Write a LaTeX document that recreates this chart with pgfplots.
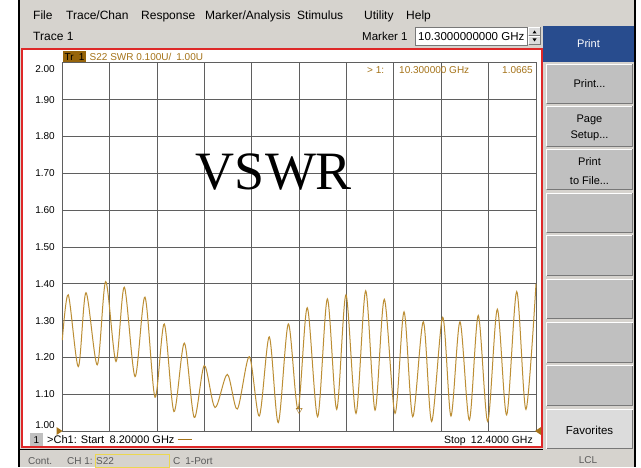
\documentclass[border=0pt]{standalone}
\usepackage{pgfplots}
\pgfplotsset{compat=1.18}
\usepackage{pgfplotstable}
\usepackage{fontspec}
\setmainfont{Liberation Sans}
\newfontfamily\bigserif{Liberation Serif}
\newcommand\fs[1]{\fontsize{#1}{#1}\selectfont}

\definecolor{win}{RGB}{214,211,206}
\definecolor{btn}{RGB}{192,192,192}
\definecolor{btnlight}{RGB}{220,220,220}
\definecolor{btnshadow}{RGB}{120,120,120}
\definecolor{printblue}{RGB}{40,76,142}
\definecolor{panelred}{RGB}{222,40,40}
\definecolor{gridc}{RGB}{95,95,95}
\definecolor{trace}{RGB}{188,142,52}
\definecolor{brown}{RGB}{165,115,25}
\definecolor{trbox}{RGB}{150,100,10}
\definecolor{stat}{RGB}{90,90,90}
\definecolor{s22box}{RGB}{235,215,80}

% S22 SWR, peaks and troughs
\pgfplotstableread{
f      vswr
8.200  1.247
8.253  1.370
8.342  1.175
8.410  1.376
8.510  1.180
8.585  1.406
8.676  1.189
8.750  1.391
8.845  1.148
8.933  1.364
9.022  1.092
9.104  1.291
9.190  1.053
9.282  1.239
9.370  1.037
9.459  1.178
9.554  1.064
9.663  1.154
9.752  1.060
9.858  1.202
9.947  1.041
10.035 1.256
10.115 1.023
10.204 1.291
10.290 1.060
10.372 1.335
10.464 1.039
10.550 1.359
10.633 1.059
10.715 1.370
10.804 1.048
10.890 1.381
10.973 1.057
11.055 1.358
11.150 1.048
11.230 1.324
11.307 1.039
11.401 1.297
11.475 1.026
11.573 1.309
11.646 1.041
11.726 1.297
11.809 1.030
11.888 1.314
11.972 1.026
12.057 1.331
12.140 1.044
12.229 1.379
12.311 1.059
12.400 1.400
}\swr

% bevelled button: x1 y1(top) x2 y2(bottom) fill
\newcommand\btn[5]{%
  \fill[#5] (#1,#2) rectangle (#3,#4);
  \draw[white,line width=1] (#1+0.5,#4-0.5) -- (#1+0.5,#2+0.5) -- (#3-0.5,#2+0.5);
  \draw[btnshadow,line width=1] (#1+0.5,#4-0.5) -- (#3-0.5,#4-0.5) -- (#3-0.5,#2+0.5);}

\begin{document}
\begin{tikzpicture}[x=1pt,y=1pt]
\fill[white] (0,0) rectangle (641,467);

% window chrome, in screen pixels (y down)
\begin{scope}[shift={(0,467)},yscale=-1]
  \fill[win] (19,0) rectangle (635,467);
  \draw[black,line width=1.5] (19,0) -- (19,467);
  \draw[black,line width=1.5] (635,0) -- (635,467);

  % menu
  \foreach \x/\t in {33/File,66/Trace\slash Chan,141/Response,205/Marker\slash Analysis,
                     297/Stimulus,364/Utility,406/Help}
    \node[anchor=base west,inner sep=0pt,font=\fs{12}] at (\x,19.3) {\t};

  \node[anchor=base west,inner sep=0pt,font=\fs{12}] at (33,40.3) {Trace 1};
  \node[anchor=base west,inner sep=0pt,font=\fs{11.5}] at (362,40.1) {Marker 1};
  \fill[white] (415,27) rectangle (527,45);
  \draw[btnshadow] (415,27) rectangle (527,45);
  \node[anchor=base west,inner sep=0pt,font=\fs{11.5}] at (418,40.1) {10.3000000000 GHz};
  \btn{528}{27}{541}{36}{btnlight}
  \btn{528}{36}{541}{45}{btnlight}
  \fill[black] (532.5,33.5) -- (536.5,33.5) -- (534.5,30.5) -- cycle;
  \fill[black] (532.5,38.5) -- (536.5,38.5) -- (534.5,41.5) -- cycle;

  % softkeys
  \fill[printblue] (543,26) rectangle (634,62);
  \node[anchor=base,inner sep=0pt,white,font=\fs{11}] at (588.5,48) {Print};
  \btn{546}{64}{633}{104}{btn}
  \btn{546}{106}{633}{147}{btn}
  \btn{546}{149}{633}{190}{btn}
  \btn{546}{193}{633}{233}{btn}
  \btn{546}{235}{633}{276}{btn}
  \btn{546}{279}{633}{319}{btn}
  \btn{546}{322}{633}{363}{btn}
  \btn{546}{365}{633}{406}{btn}
  \btn{546}{409}{633}{449}{btnlight}
  \node[anchor=base,inner sep=0pt,font=\fs{11}] at (589.5,88) {Print...};
  \node[anchor=base,inner sep=0pt,font=\fs{11}] at (589.5,122.5) {Page};
  \node[anchor=base,inner sep=0pt,font=\fs{11}] at (589.5,139) {Setup...};
  \node[anchor=base,inner sep=0pt,font=\fs{11}] at (589.5,166) {Print};
  \node[anchor=base,inner sep=0pt,font=\fs{11}] at (589.5,184) {to File...};
  \node[anchor=base,inner sep=0pt,font=\fs{11.5}] at (589.5,434) {Favorites};

  % trace panel
  \fill[white] (22,49) rectangle (542,447);
  \draw[panelred,line width=1.5] (22,49) rectangle (542,447);
  \draw[black,line width=1] (19,449.5) -- (543,449.5);

  % status bar
  \draw[s22box,line width=1] (95,454) rectangle (169,467);
  \foreach \x/\t in {28/Cont.,67/CH 1:,96/S22,173/C\enspace 1-Port}
    \node[anchor=base west,inner sep=0pt,stat,font=\fs{10}] at (\x,464.5) {\t};
  \node[anchor=base,inner sep=0pt,stat,font=\fs{10}] at (588,463.5) {LCL};
\end{scope}

\begin{axis}[
  at={(62.3pt,35.9pt)}, anchor=south west,
  scale only axis, width=473.7pt, height=368.2pt,
  xmin=8.2, xmax=12.4, ymin=1, ymax=2,
  xtick={8.62,9.04,9.46,9.88,10.30,10.72,11.14,11.56,11.98},
  xticklabels={},
  ytick={1.1,1.2,1.3,1.4,1.5,1.6,1.7,1.8,1.9},
  yticklabels={1.10,1.20,1.30,1.40,1.50,1.60,1.70,1.80,1.90},
  yticklabel style={font=\fs{10}, inner sep=0pt, anchor=east, xshift=-7.3pt},
  major tick length=0pt,
  grid=major,
  grid style={draw=gridc, line width=1pt},
  axis line style={draw=gridc, line width=1pt},
  clip=false,
]
\addplot[trace, line width=1pt, smooth] table[x=f,y=vswr]{\swr};
\addplot[only marks, brown, mark=triangle, mark size=3.5pt,
  mark options={rotate=180, fill=white, yshift=3.5pt}] coordinates {(10.3,1.0665)};
\end{axis}

\begin{scope}[shift={(0,467)},yscale=-1]
  \node[anchor=east,inner sep=0pt,font=\fs{10}] at (55,69) {2.00};
  \node[anchor=east,inner sep=0pt,font=\fs{10}] at (55,425) {1.00};
  \fill[trbox] (62.5,51) rectangle (86,62);
  \node[anchor=base west,inner sep=0pt,font=\fs{10}] at (64.5,60.1) {Tr\enspace 1};
  \node[anchor=base west,inner sep=0pt,brown,font=\fs{10}] at (89.5,60.1) {S22 SWR 0.100U/\enspace 1.00U};
  \node[anchor=base west,inner sep=0pt,brown,font=\fs{10}] at (367,73.6) {> 1:};
  \node[anchor=base west,inner sep=0pt,brown,font=\fs{10}] at (399,73.6) {10.300000 GHz};
  \node[anchor=base east,inner sep=0pt,brown,font=\fs{10}] at (533,73.6) {1.0665};
  \node[font=\bigserif\fs{54}] at (274,172) {VSWR};
  \fill[brown] (56.5,427) -- (62.5,431) -- (56.5,435) -- cycle;
  \fill[brown] (541,427) -- (535,431) -- (541,435) -- cycle;
  \fill[btn] (30,433) rectangle (43,446);
  \node[anchor=base,inner sep=0pt,font=\fs{10}] at (36.5,443) {1};
  \node[anchor=base west,inner sep=0pt,font=\fs{11}] at (47,443.3)
    {>Ch1: Start\enspace 8.20000 GHz \textcolor{brown}{\rule[0.3em]{14pt}{1pt}}};
  \node[anchor=base east,inner sep=0pt,font=\fs{10.5}] at (533,443.3) {Stop\enspace 12.4000 GHz};
\end{scope}

\pgfresetboundingbox
\useasboundingbox (0,0) rectangle (641,467);
\end{tikzpicture}
\end{document}
